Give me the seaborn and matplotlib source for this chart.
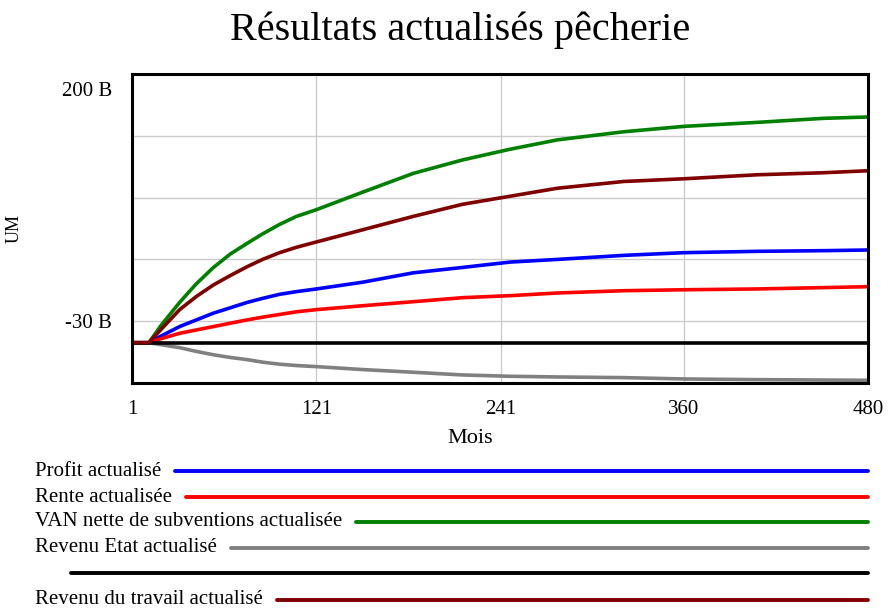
import seaborn as sns
import matplotlib.pyplot as plt
from matplotlib.lines import Line2D
import pandas as pd

mois = [1, 12, 20, 32, 43, 54, 65, 76, 86, 97, 108, 121, 151, 184, 216, 247, 278, 321, 360, 408, 451, 480]

# values in billions (B)
profit = [0, 0, 5, 12, 17, 22, 26, 30, 33, 36, 38, 40, 45, 52, 56, 60, 62, 65, 67, 68, 68.5, 69]
rente = [0, 0, 3, 7, 9.5, 12, 14.5, 17, 19, 21, 23, 24.6, 27.5, 30.5, 33.5, 35, 37, 38.7, 39.4, 40, 41, 41.7]
van = [0, 0, 13, 30, 44, 56, 66, 74, 81, 88, 94, 99, 112, 126, 136, 144, 151, 157, 161, 164, 167, 168]
etat = [0, 0, -1.5, -3.7, -6.5, -9, -11, -12.6, -14.5, -16, -17, -17.8, -20, -22, -24, -25, -25.5,
        -26, -27, -27.5, -27.8, -28]
zero = [0] * len(mois)
travail = [0, 0, 10, 24.6, 34.5, 43, 50, 56.6, 62, 67, 71, 75, 84, 94, 103, 109, 115, 120, 122,
           125, 126.5, 128]

series = ["Profit actualisé", "Rente actualisée", "VAN nette de subventions actualisée",
          "Revenu Etat actualisé", "", "Revenu du travail actualisé"]
values = [profit, rente, van, etat, zero, travail]
colors = ["#0000ff", "#ff0000", "#008000", "#808080", "#000000", "#800000"]

xticks = [1, 121, 241, 360, 480]

rows = []
for name, vals in zip(series, values):
    for m, v in zip(mois, vals):
        rows.append({"Mois": m, "UM": v, "serie": name if name else "(noir)"})
df = pd.DataFrame(rows)
keys = [s if s else "(noir)" for s in series]
palette = dict(zip(keys, colors))

sns.set_theme(style="white")
plt.rcParams["font.family"] = ["Liberation Serif", "DejaVu Serif"]
plt.rcParams["text.color"] = "black"
plt.rcParams["axes.labelcolor"] = "black"
plt.rcParams["xtick.color"] = "black"
plt.rcParams["ytick.color"] = "black"

fig = plt.figure(figsize=(8.89, 6.10), dpi=100)
ax = fig.add_axes([132 / 889, 1 - 383 / 610, 736 / 889, 309 / 610])

sns.lineplot(data=df, x="Mois", y="UM", hue="serie", hue_order=keys,
             palette=palette, linewidth=2.6, legend=False, ax=ax)

ax.set_xlim(1, 480)
ax.set_ylim(-30, 200)
ax.set_xticks(xticks)
ax.set_xticklabels([str(t) for t in xticks], fontsize=15)
ax.set_yticks([16, 62, 108, 154])
ax.set_yticklabels([])
ax.tick_params(axis="x", length=0, pad=12)
ax.tick_params(axis="y", length=0)
ax.grid(True, color="#cccccc", linewidth=1)
for sp in ax.spines.values():
    sp.set_color("black")
    sp.set_linewidth(2.2)

ax.text(-0.027, 0.942, "200 B", transform=ax.transAxes, ha="right", va="center", fontsize=15)
ax.text(-0.027, 0.194, "-30 B", transform=ax.transAxes, ha="right", va="center", fontsize=15)

ax.set_xlabel("Mois", fontsize=16)
ax.xaxis.set_label_coords(0.46, -0.178)
ax.xaxis.label.set_va("center")
ax.set_ylabel("UM", fontsize=13)
ax.yaxis.set_label_coords(-0.149, 0.5)

fig.text(460 / 889, 1 - 30 / 610, "Résultats actualisés pêcherie", ha="center", va="center", fontsize=29)

# legend block under the chart
legend_y = [471, 497, 522, 548, 573, 600]
fig.canvas.draw()
renderer = fig.canvas.get_renderer()
for name, col, py in zip(series, colors, legend_y):
    yf = 1 - py / 610
    if name:
        t = fig.text(35 / 889, yf, name, ha="left", va="center", fontsize=15)
        x_start = t.get_window_extent(renderer).x1 + 14
    else:
        x_start = 71
    fig.add_artist(Line2D([x_start / 889, 868 / 889], [yf, yf], color=col, linewidth=2.8,
                          solid_capstyle="round", transform=fig.transFigure))

fig.savefig("out.png", dpi=100, facecolor="white")
